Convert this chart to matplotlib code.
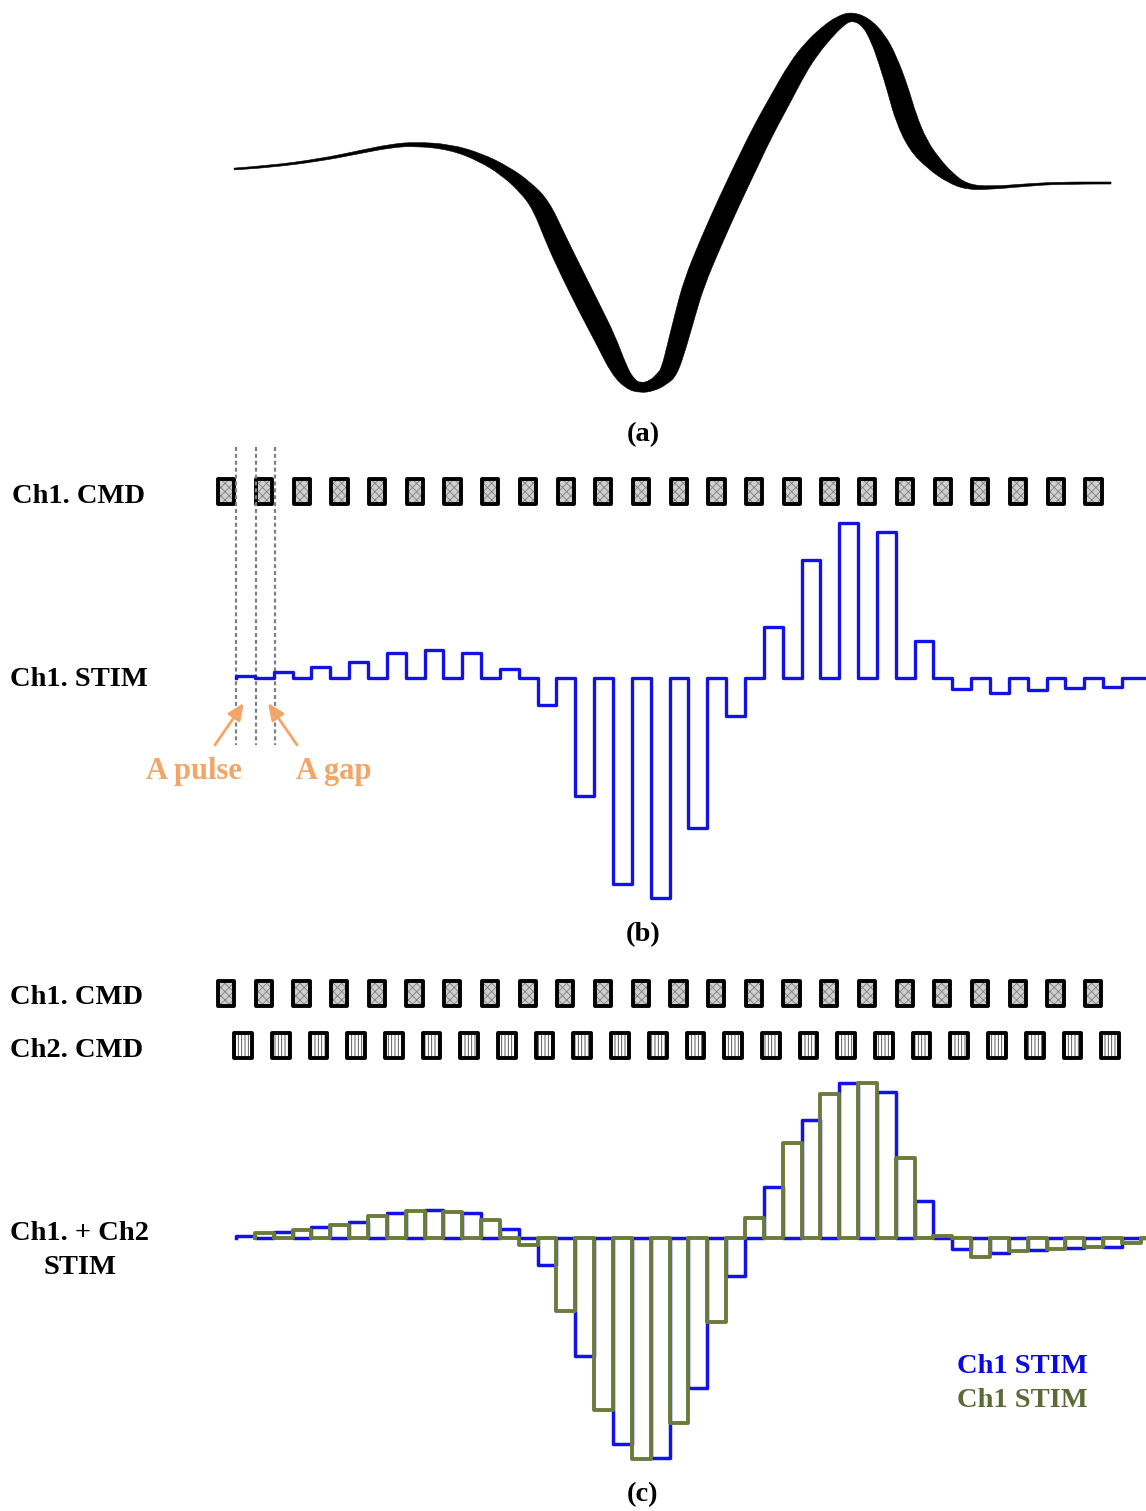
import numpy as np
import matplotlib.pyplot as plt
from matplotlib.patches import Rectangle, PathPatch
from matplotlib.path import Path

plt.rcParams['font.family'] = ['Liberation Serif', 'DejaVu Serif']
plt.rcParams['hatch.linewidth'] = 0.6

### DATA ##########

# (a) reference waveform: time (pulse periods), amplitude, stroke width
wave_t = [-0.05, 0.90, 2.23, 3.29, 4.09, 4.75, 5.68, 6.47, 7.14, 7.67,
          8.09, 8.49, 8.91, 9.36, 9.81, 10.16, 10.45, 10.72, 11.03, 11.30,
          11.49, 11.70, 11.91, 12.15, 12.60, 13.10, 13.53, 13.95, 14.43, 14.91,
          15.28, 15.65, 16.02, 16.34, 16.71, 17.03, 17.29, 17.56, 17.77, 18.09,
          18.49, 18.94, 19.39, 20.00, 20.98, 21.86, 23.21]
wave_amp = [14, 16.5, 23, 31, 37, 39, 36, 26, 12, -4,
            -22, -57, -90, -124, -157, -187, -201, -205, -203, -196,
            -189, -162, -132, -100, -59, -17, 17, 50, 83, 116,
            135, 150, 162, 167, 161, 145, 123, 93, 65, 38,
            20, 5, -4, -5, -2, 0, 0]
wave_w = [1.8, 2, 2.5, 3, 3.5, 4, 5.5, 8, 11, 14.5,
          18, 20.5, 21.5, 21.5, 20.5, 17, 12.5, 10, 11, 14.5,
          17, 19, 20, 21, 21.5, 21.5, 21.5, 21, 20.5, 19,
          17, 14.5, 11.5, 8.5, 10, 15.5, 19, 21, 21.5, 20,
          15.5, 10.5, 5.5, 3, 2.5, 2, 2]

n_pulse = 24
ch1_amp = [2, 6, 11, 16, 25, 28, 25, 9, -27, -118, -206, -220, -150, -38,
           51, 118, 155, 146, 37, -11, -15, -12, -10, -9]
ch2_amp = [5, 8, 13, 22, 27, 26, 18, -7, -73, -172, -221, -185, -84, 20,
           95, 144, 155, 80, 2, -19, -13, -11, -9, -5]

### LAYOUT ##########
W, H = 1146, 1511
x0_px, period_px = 236, 37.7
base_a, base_b, base_c = 183, 678, 1238
blue = '#1212e8'
olive = '#6b7b3c'
orange = '#f2a566'

fig = plt.figure(figsize=(W / 100, H / 100), dpi=100)
ax = fig.add_axes([0, 0, 1, 1])
ax.set_xlim(-x0_px / period_px, (W - x0_px) / period_px)
ax.set_ylim(H, 0)
ax.axis('off')


def label(xp, yp, s, **kw):
    kw.setdefault('fontsize', 20.5)
    fig.text(xp / W, 1 - yp / H, s, fontweight='bold', va='baseline', **kw)


def smooth(p):
    verts, codes = [p[0]], [Path.MOVETO]
    for i in range(1, len(p) - 1):
        verts += [p[i], (p[i] + p[i + 1]) / 2]
        codes += [Path.CURVE3, Path.CURVE3]
    verts.append(p[-1])
    codes.append(Path.LINETO)
    return verts, codes


def stim(amp, offset, t_end):
    xs, ys = [], []
    for k, a in enumerate(amp):
        t = k + offset
        xs += [t, t, t + 0.5, t + 0.5]
        ys += [0, a, a, 0]
    xs.append(t_end)
    ys.append(0)
    return np.array(xs), np.array(ys)


def cmd_row(t_left, width, y_top, height, hatch, face, hcol):
    for k in range(n_pulse):
        ax.add_patch(Rectangle((k + t_left, y_top), width, height, facecolor=face,
                               edgecolor=hcol, hatch=hatch, lw=0))
        ax.add_patch(Rectangle((k + t_left, y_top), width, height, fill=False,
                               edgecolor='black', lw=2.8, joinstyle='round'))


# ---- (a) thick waveform ----
pts = ax.transData.transform(np.column_stack([wave_t, base_a - np.array(wave_amp)]))
d = np.gradient(pts, axis=0)
d /= np.linalg.norm(d, axis=1)[:, None]
nrm = np.column_stack([-d[:, 1], d[:, 0]])
half = np.array(wave_w)[:, None] / 2
v1, c1 = smooth(pts + nrm * half)
v2, c2 = smooth((pts - nrm * half)[::-1])
c2[0] = Path.LINETO
verts = np.vstack([v1, v2, [v1[0]]])
codes = c1 + c2 + [Path.CLOSEPOLY]
verts = ax.transData.inverted().transform(verts)
ax.add_patch(PathPatch(Path(verts, codes), facecolor='black', edgecolor='black', lw=0.4))
label(643, 441, '(a)', ha='center')

# ---- (b) ----
cmd_row(-0.47, 0.43, 479, 25, 'xxxx', '#cfcfcf', '#808080')
ax.vlines([0, 0.52, 1.03], 447, 745, colors='#808080', lw=1.6,
          linestyles=(0, (1.8, 1.3)))
xs, ys = stim(ch1_amp, 0, 24.14)
ax.plot(xs, base_b - ys, color=blue, lw=2.4)
label(12, 503, 'Ch1. CMD')
label(10, 686, 'Ch1. STIM')
label(194, 779, 'A pulse', color=orange, ha='center', fontsize=22)
label(334, 779, 'A gap', color=orange, ha='center', fontsize=22)
arrow = dict(arrowstyle='-|>,head_length=0.5,head_width=0.22', color=orange, lw=2,
             shrinkA=0, shrinkB=0, mutation_scale=20)
ax.annotate('', xy=(0.21, 703), xytext=(-0.56, 745), arrowprops=arrow)
ax.annotate('', xy=(0.85, 703), xytext=(1.62, 745), arrowprops=arrow)
label(643, 941, '(b)', ha='center')

# ---- (c) ----
cmd_row(-0.48, 0.43, 981, 25, 'xxxx', '#cfcfcf', '#808080')
cmd_row(-0.05, 0.47, 1033, 25, '|||||', 'white', '#444444')
xs, ys = stim(ch1_amp, 0, 24.1)
ax.plot(xs, base_c - ys, color=blue, lw=2.5)
xs, ys = stim(ch2_amp, 0.5, 24.1)
ax.plot(xs, base_c - ys, color=olive, lw=2.8)
label(10, 1004, 'Ch1. CMD')
label(10, 1057, 'Ch2. CMD')
label(80, 1240, 'Ch1. + Ch2', ha='center')
label(80, 1274, 'STIM', ha='center')
label(1022, 1373, 'Ch1 STIM', color='#0a0ae0', ha='center')
label(1022, 1407, 'Ch1 STIM', color='#5c6b35', ha='center')
label(643, 1501, '(c)', ha='center')

fig.savefig('out.png', dpi=100)
